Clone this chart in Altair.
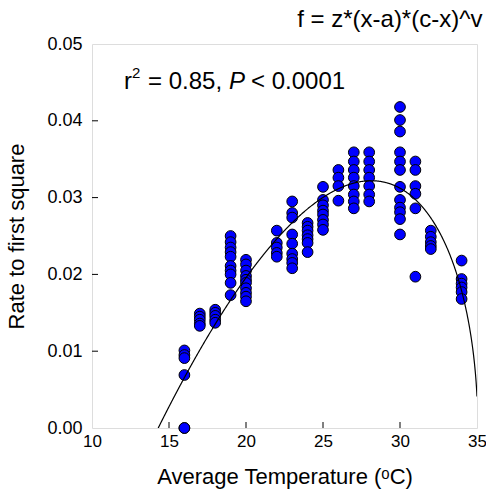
import altair as alt
import pandas as pd

# Observed data: temperature (°C) and rate to first square
temp_16 = [16, 16, 16, 16, 16, 16]
rate_16 = [0.0101, 0.0095, 0.0091, 0.0069, 0.0, 0.0]
temp_17 = [17, 17, 17, 17, 17]
rate_17 = [0.0149, 0.0145, 0.0141, 0.0136, 0.0133]
temp_18 = [18, 18, 18, 18, 18]
rate_18 = [0.0154, 0.0150, 0.0146, 0.0141, 0.0137]
temp_19 = [19] * 10
rate_19 = [0.0250, 0.0242, 0.0235, 0.0229, 0.0223, 0.0211, 0.0205, 0.0200, 0.0189, 0.0173]
temp_20 = [20] * 10
rate_20 = [0.0219, 0.0213, 0.0205, 0.0198, 0.0193, 0.0189, 0.0182, 0.0176, 0.0171, 0.0165]
temp_22 = [22] * 5
rate_22 = [0.0257, 0.0241, 0.0235, 0.0228, 0.0223]
temp_23 = [23] * 9
rate_23 = [0.0295, 0.0280, 0.0274, 0.0252, 0.0240, 0.0227, 0.0220, 0.0215, 0.0208]
temp_24 = [24] * 7
rate_24 = [0.0267, 0.0262, 0.0257, 0.0251, 0.0246, 0.0241, 0.0229]
temp_25 = [25] * 8
rate_25 = [0.0314, 0.0297, 0.0290, 0.0283, 0.0278, 0.0271, 0.0265, 0.0258]
temp_26 = [26] * 4
rate_26 = [0.0336, 0.0326, 0.0315, 0.0296]
temp_27 = [27] * 8
rate_27 = [0.0359, 0.0347, 0.0336, 0.0326, 0.0315, 0.0304, 0.0295, 0.0286]
temp_28 = [28] * 7
rate_28 = [0.0359, 0.0347, 0.0336, 0.0326, 0.0315, 0.0304, 0.0295]
temp_30 = [30] * 12
rate_30 = [0.0418, 0.0401, 0.0386, 0.0359, 0.0347, 0.0336, 0.0314, 0.0297, 0.0287, 0.0281, 0.0272, 0.0252]
temp_31 = [31] * 6
rate_31 = [0.0347, 0.0336, 0.0315, 0.0305, 0.0286, 0.0197]
temp_32 = [32] * 5
rate_32 = [0.0257, 0.0249, 0.0242, 0.0237, 0.0233]
temp_34 = [34] * 6
rate_34 = [0.0218, 0.0194, 0.0188, 0.0183, 0.0177, 0.0168]

temps = (temp_16 + temp_17 + temp_18 + temp_19 + temp_20 + temp_22 + temp_23 + temp_24
         + temp_25 + temp_26 + temp_27 + temp_28 + temp_30 + temp_31 + temp_32 + temp_34)
rates = (rate_16 + rate_17 + rate_18 + rate_19 + rate_20 + rate_22 + rate_23 + rate_24
         + rate_25 + rate_26 + rate_27 + rate_28 + rate_30 + rate_31 + rate_32 + rate_34)

# Fitted model parameters for f = z*(x-a)*(c-x)^v
fit_z = 0.000885
fit_a = 14.3
fit_c = 35.05
fit_v = 0.5

x_ticks = [10, 15, 20, 25, 30, 35]
y_ticks = [0.00, 0.01, 0.02, 0.03, 0.04, 0.05]
x_inner_ticks = [15, 20, 25, 30]
y_inner_ticks = [0.01, 0.02, 0.03, 0.04]

FONT = "Liberation Sans"

df = pd.DataFrame({"temp": temps, "rate": rates})

xscale = alt.Scale(domain=[10, 35], nice=False, zero=False)
yscale = alt.Scale(domain=[0, 0.05], nice=False)

xaxis = alt.Axis(values=x_ticks, format="d", title="Average Temperature (ᵒC)",
                 grid=False, ticks=False, domain=False, labelPadding=5, labelFlush=False,
                 labelFontSize=17, titleFontSize=22, titlePadding=17,
                 labelFont=FONT, titleFont=FONT, labelColor="black", titleColor="black",
                 titleFontWeight="normal")
yaxis = alt.Axis(values=y_ticks, format=".2f", title="Rate to first square",
                 grid=False, ticks=False, domain=False, labelPadding=10, labelFlush=False,
                 labelFontSize=18, titleFontSize=22, titlePadding=18,
                 labelFont=FONT, titleFont=FONT, labelColor="black", titleColor="black",
                 titleFontWeight="normal")

points = alt.Chart(df).mark_point(
    shape="circle", filled=True, fill="#0000FF", stroke="black", strokeWidth=1,
    size=115, opacity=1
).encode(
    x=alt.X("temp:Q", scale=xscale, axis=xaxis),
    y=alt.Y("rate:Q", scale=yscale, axis=yaxis),
)

curve = alt.Chart(alt.sequence(fit_a, 35.0001, 0.02, as_="x")).transform_calculate(
    f=f"{fit_z}*(datum.x-{fit_a})*pow({fit_c}-datum.x,{fit_v})"
).mark_line(color="black", strokeWidth=1.2, clip=True).encode(
    x=alt.X("x:Q", scale=xscale),
    y=alt.Y("f:Q", scale=yscale),
)

xt = alt.Chart(pd.DataFrame({"t": x_inner_ticks})).mark_rule(color="black", strokeWidth=1).encode(
    x=alt.X("t:Q", scale=xscale), y=alt.value(384), y2=alt.value(378)
)
yt = alt.Chart(pd.DataFrame({"t": y_inner_ticks})).mark_rule(color="black", strokeWidth=1).encode(
    y=alt.Y("t:Q", scale=yscale), x=alt.value(0), x2=alt.value(6)
)


def label(txt, px, py, size=24, style="normal"):
    return alt.Chart(pd.DataFrame({"s": [txt]})).mark_text(
        font=FONT, fontSize=size, fontStyle=style, align="left",
        baseline="alphabetic", color="black"
    ).encode(text="s:N", x=alt.value(px), y=alt.value(py))


ann = [
    label("r", 32, 45),
    label("2", 40, 34, size=15),
    label("= 0.85,", 56, 45),
    label("P", 137, 45, style="italic"),
    label("< 0.0001", 159, 45),
]

chart = alt.layer(points, curve, xt, yt, *ann).properties(
    width=385, height=384,
    title=alt.TitleParams("f = z*(x-a)*(c-x)^v", anchor="end", fontSize=24, font=FONT,
                          fontWeight="normal", color="black", offset=3, dx=-4),
    autosize=alt.AutoSizeParams(type="none"),
    padding={"left": 92, "top": 44, "right": 9, "bottom": 68},
).configure_view(stroke="black", strokeWidth=1.2).configure(background="white")

chart.save("out.html", embed_options={"renderer": "svg", "actions": False})
